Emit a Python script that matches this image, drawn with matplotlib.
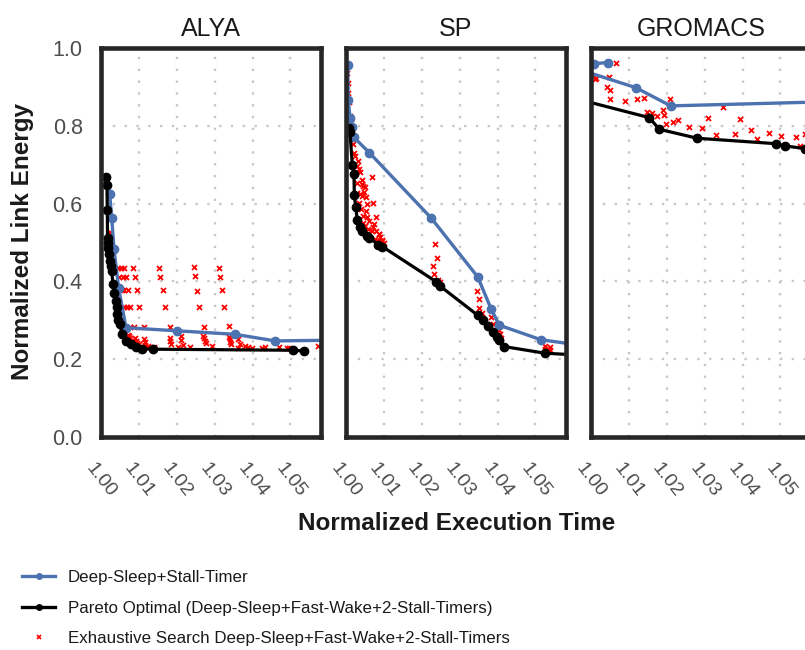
import numpy as np
import matplotlib
matplotlib.use("Agg")
import matplotlib.pyplot as plt
from matplotlib.lines import Line2D

plt.rcParams['font.family'] = ['Liberation Sans', 'DejaVu Sans']

# ---------------- data ----------------
apps = ['ALYA', 'SP', 'GROMACS']

# Deep-Sleep+Stall-Timer
alya_ds_x = [1.00235, 1.00287, 1.00348, 1.00472, 1.00664, 1.02001, 1.03538, 1.04600, 1.06310]
alya_ds_y = [0.624, 0.564, 0.483, 0.382, 0.281, 0.273, 0.264, 0.247, 0.249]
sp_ds_x = [1.00050, 1.00066, 1.00111, 1.00156, 1.00216, 1.00620, 1.02246, 1.03478, 1.03828,
           1.04047, 1.05146, 1.06700]
sp_ds_y = [0.956, 0.866, 0.821, 0.796, 0.770, 0.731, 0.5635, 0.4116, 0.330, 0.2874, 0.250, 0.229]
gro_ds_x = [1.00461, 1.00084, 0.99800, 1.01184, 1.02107, 1.06310]
gro_ds_y = [0.9625, 0.960, 0.9414, 0.8982, 0.8512, 0.862]

# Pareto optimal (Deep-Sleep+Fast-Wake+2-Stall-Timers)
alya_po_x = [1.00145, 1.00163, 1.00171, 1.00177, 1.00185, 1.00198, 1.00215, 1.00235, 1.00260,
             1.00287, 1.00322, 1.00360, 1.00393, 1.00415, 1.00435, 1.00465, 1.00498, 1.00567,
             1.00656, 1.00788, 1.00920, 1.01094, 1.01363, 1.05060, 1.05370]
alya_po_y = [0.669, 0.648, 0.584, 0.512, 0.500, 0.486, 0.470, 0.453, 0.440, 0.427, 0.393, 0.370,
             0.350, 0.333, 0.316, 0.302, 0.290, 0.264, 0.247, 0.238, 0.232, 0.227, 0.2257,
             0.223, 0.221]
sp_po_x = [1.00084, 1.00111, 1.00171, 1.00216, 1.00224, 1.00261, 1.00303, 1.00374, 1.00435,
           1.00567, 1.00620, 1.00857, 1.00962, 1.02378, 1.02484, 1.03478, 1.03609, 1.03741,
           1.03873, 1.03978, 1.04047, 1.04179, 1.05252, 1.06700]
sp_po_y = [0.794, 0.783, 0.6995, 0.677, 0.622, 0.592, 0.558, 0.540, 0.530, 0.517, 0.5126, 0.494,
           0.4895, 0.3995, 0.388, 0.313, 0.301, 0.2856, 0.271, 0.257, 0.249, 0.2324, 0.2154, 0.2077]
gro_po_x = [0.99794, 1.01542, 1.01806, 1.02808, 1.04883, 1.05120, 1.05650, 1.06310]
gro_po_y = [0.865, 0.821, 0.791, 0.768, 0.754, 0.7483, 0.7414, 0.733]

# Exhaustive search
alya_ex_x = [1.00461, 1.00533, 1.00620, 1.00857, 1.00488, 1.00577, 1.00656, 1.00902,
             1.00551, 1.00620, 1.00709, 1.00962, 1.00620, 1.00683, 1.00770, 1.01015,
             1.00656, 1.00770, 1.00883, 1.01147,
             1.00751, 1.00770, 1.00788, 1.00902, 1.00928, 1.00962, 1.01147, 1.01165, 1.01165,
             1.01534, 1.01561, 1.01632, 1.01685, 1.01824, 1.01824, 1.01832, 1.01843,
             1.02457, 1.02484, 1.02528, 1.02581, 1.02721, 1.02702, 1.02721, 1.02747, 1.02764,
             1.03116, 1.03143, 1.03203, 1.03256, 1.03380, 1.03380, 1.03397, 1.03414, 1.03432,
             1.02107, 1.02107, 1.02159, 1.02043, 1.02352, 1.02924, 1.03609, 1.03670, 1.03625,
             1.03802, 1.03889, 1.03978, 1.04242, 1.04337, 1.04706, 1.04901, 1.04962, 1.05734,
             1.00230, 1.00250, 1.00300, 1.00350, 1.00400, 1.00450, 1.00520, 1.00600, 1.00720,
             1.00850, 1.01000, 1.01250, 1.01400]
alya_ex_y = [0.4355, 0.4355, 0.4355, 0.4355, 0.4116, 0.4116, 0.4116, 0.4116,
             0.3774, 0.3774, 0.3774, 0.3774, 0.3332, 0.3332, 0.3332, 0.3332,
             0.2817, 0.2817, 0.2817, 0.2817,
             0.2599, 0.2535, 0.2470, 0.2556, 0.2470, 0.2406, 0.2513, 0.2445, 0.2367,
             0.4355, 0.4116, 0.3774, 0.3332, 0.2817, 0.2535, 0.2470, 0.2385,
             0.4380, 0.4141, 0.3766, 0.3340, 0.2826, 0.2599, 0.2535, 0.2470, 0.2406,
             0.4355, 0.4116, 0.3787, 0.3353, 0.2843, 0.2573, 0.2513, 0.2453, 0.2385,
             0.2599, 0.2488, 0.2368, 0.2307, 0.2324, 0.2329, 0.2513, 0.2402, 0.2299,
             0.2329, 0.2316, 0.2299, 0.2299, 0.2324, 0.2324, 0.2299, 0.2299, 0.2333,
             0.528, 0.470, 0.430, 0.390, 0.360, 0.330, 0.300, 0.275, 0.262,
             0.245, 0.238, 0.233, 0.2316]
sp_ex_x = [1.00040, 1.00066, 1.00066, 1.00092, 1.00111, 1.00137, 1.00182, 1.00216, 1.00243,
           1.00287, 1.00356, 1.00287, 1.00419, 1.00461, 1.00506, 1.00303, 1.00374, 1.00419,
           1.00533, 1.00698, 1.00725, 1.00356, 1.00393, 1.00796, 1.00446, 1.00567, 1.00446,
           1.00506, 1.00593, 1.00683, 1.00868, 1.00770, 1.00857, 1.00902, 1.00744, 1.00876,
           1.00946, 1.01007, 1.02352, 1.02397, 1.02291, 1.02334, 1.02439, 1.02484, 1.03467,
           1.03520, 1.03504, 1.03590, 1.03836, 1.03889, 1.04031, 1.04066, 1.04092, 1.05252,
           1.05252, 1.05383, 1.05383,
           1.00330, 1.00380, 1.00420, 1.00480, 1.00550, 1.00520, 1.00620, 1.00720, 1.00800,
           1.00900, 1.00950]
sp_ex_y = [0.937, 0.911, 0.885, 0.860, 0.825, 0.818, 0.753, 0.731, 0.7226,
           0.697, 0.690, 0.654, 0.650, 0.645, 0.643, 0.628, 0.624, 0.620,
           0.618, 0.669, 0.6026, 0.6026, 0.5856, 0.5666, 0.5684, 0.566, 0.551,
           0.5427, 0.534, 0.530, 0.521, 0.5085, 0.504, 0.4956, 0.547, 0.523,
           0.504, 0.4998, 0.4956, 0.461, 0.440, 0.4185, 0.403, 0.3995, 0.3756,
           0.354, 0.331, 0.318, 0.309, 0.2915, 0.2745, 0.2658, 0.2555, 0.234,
           0.2257, 0.2316, 0.2231,
           0.710, 0.680, 0.660, 0.630, 0.600, 0.580, 0.555, 0.540, 0.530,
           0.515, 0.507]
gro_ex_x = [1.00111, 1.00137, 1.00664, 1.00480, 1.00435, 1.00506, 1.00506, 1.00902, 1.01226,
            1.01403, 1.01490, 1.01606, 1.01737, 1.01895, 1.01929, 1.02088, 1.01974, 1.02159,
            1.02307, 1.02581, 1.02924, 1.03082, 1.03301, 1.03477, 1.03810, 1.03934, 1.04232,
            1.04374, 1.04690, 1.05007, 1.05410, 1.05647, 1.05520]
gro_ex_y = [0.9198, 0.924, 0.9625, 0.9257, 0.900, 0.8915, 0.870, 0.864, 0.870,
            0.8725, 0.8357, 0.832, 0.8254, 0.841, 0.827, 0.8684, 0.8057, 0.811,
            0.8144, 0.797, 0.7954, 0.8195, 0.7758, 0.8486, 0.7784, 0.817, 0.7895,
            0.767, 0.7825, 0.774, 0.772, 0.7784, 0.748]

ds_x = [alya_ds_x, sp_ds_x, gro_ds_x]
ds_y = [alya_ds_y, sp_ds_y, gro_ds_y]
po_x = [alya_po_x, sp_po_x, gro_po_x]
po_y = [alya_po_y, sp_po_y, gro_po_y]
ex_x = [alya_ex_x, sp_ex_x, gro_ex_x]
ex_y = [alya_ex_y, sp_ex_y, gro_ex_y]

x_ticks = [1.00, 1.01, 1.02, 1.03, 1.04, 1.05]
y_ticks = [0.0, 0.2, 0.4, 0.6, 0.8, 1.0]

labels = ['Deep-Sleep+Stall-Timer',
          'Pareto Optimal (Deep-Sleep+Fast-Wake+2-Stall-Timers)',
          'Exhaustive Search Deep-Sleep+Fast-Wake+2-Stall-Timers']

blue = '#4C72B0'
border = '#262626'
dark = '#1a1a1a'

# ---------------- figure ----------------
W, H = 805, 650
fig = plt.figure(figsize=(W / 100, H / 100), dpi=100)

# panels: 220 px wide, 245 px apart (third one runs off the right edge)
for i, app in enumerate(apps):
    left = (100.8 + 245 * i) / W
    ax = fig.add_axes([left, (H - 437) / H, 220 / W, 389 / H])
    ax.set_xlim(1.0, 1.058)
    ax.set_ylim(0, 1)

    ax.grid(True, color='#c8c8c8', linestyle=(0, (1, 4)), linewidth=1.7)
    ax.set_axisbelow(True)

    ax.plot(ex_x[i], ex_y[i], linestyle='none', marker='x', color='red',
            markersize=3.6, markeredgewidth=1.3, zorder=2)
    ax.plot(ds_x[i], ds_y[i], color=blue, linewidth=2.4, marker='o',
            markersize=6, zorder=3)
    ax.plot(po_x[i], po_y[i], color='black', linewidth=2.3, marker='o',
            markersize=6, zorder=4)

    ax.set_xticks(x_ticks)
    ax.set_xticklabels([f'{t:.2f}' for t in x_ticks], rotation=-52,
                       ha='center', va='top', fontsize=14, color='#4d4d4d')
    ax.set_yticks(y_ticks)
    if i == 0:
        ax.set_yticklabels([f'{t:.1f}' for t in y_ticks], fontsize=15.5, color='#4d4d4d')
    else:
        ax.set_yticklabels([])
    ax.tick_params(axis='x', length=0, pad=16.5)
    ax.tick_params(axis='y', length=0, pad=13)

    for s in ax.spines.values():
        s.set_color(border)
        s.set_linewidth(3.3)
        s.set_zorder(5)

    ax.set_title(app, fontsize=18, color=dark, pad=8.5)

fig.text(23 / W, 1 - 242 / H, 'Normalized Link Energy', rotation=90, fontsize=17.5,
         fontweight='bold', color=dark, ha='center', va='center')
fig.text(457 / W, 1 - 523 / H, 'Normalized Execution Time', fontsize=17.5,
         fontweight='bold', color=dark, ha='center', va='center')

handles = [
    Line2D([], [], color=blue, linewidth=2.4, marker='o', markersize=4),
    Line2D([], [], color='black', linewidth=2.4, marker='o', markersize=4),
    Line2D([], [], color='red', linestyle='none', marker='x', markersize=3,
           markeredgewidth=1.2),
]
fig.legend(handles, labels, loc='upper left', bbox_to_anchor=(22 / W, 1 - 570 / H),
           frameon=False, fontsize=12.2, handlelength=1.95, handletextpad=0.76,
           labelspacing=0.92, borderpad=0, borderaxespad=0, labelcolor=dark)

fig.savefig('out.png', dpi=100)
